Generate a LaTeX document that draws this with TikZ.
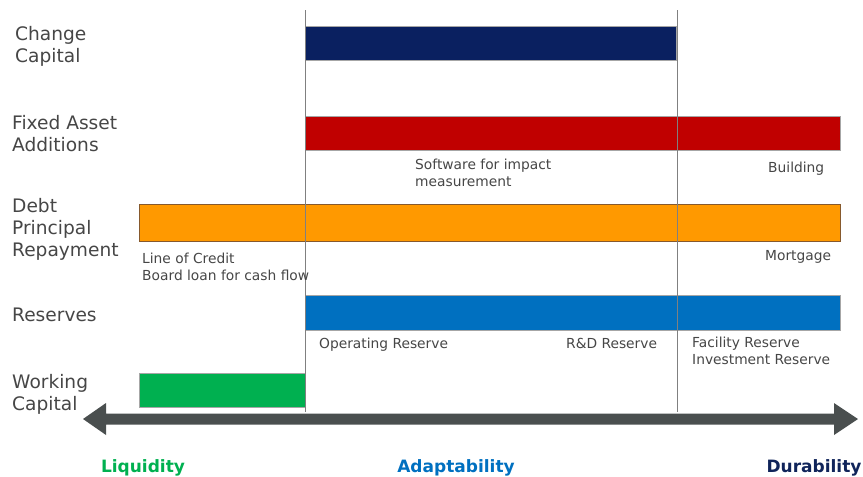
\documentclass[tikz,border=0pt]{standalone}
\usepackage{fontspec}
\setmainfont{DejaVu Sans}
\definecolor{navybar}{RGB}{10,32,96}
\definecolor{redbar}{RGB}{192,0,0}
\definecolor{orangebar}{RGB}{255,153,0}
\definecolor{bluebar}{RGB}{0,112,192}
\definecolor{greenbar}{RGB}{0,176,80}
\definecolor{txtgray}{RGB}{70,70,70}
\definecolor{arrowgray}{RGB}{74,79,79}
\definecolor{durnavy}{RGB}{16,36,90}
\begin{document}
\begin{tikzpicture}[x=1pt,y=-1pt,
  cat/.style={anchor=base west,inner sep=0pt,align=left,text=txtgray,font=\fontsize{18.6}{22}\selectfont},
  note/.style={anchor=base west,inner sep=0pt,align=left,text=txtgray,font=\fontsize{13.8}{16.5}\selectfont},
  axis/.style={anchor=base,inner sep=0pt,font=\bfseries\fontsize{17}{20}\selectfont},
  bar/.style={draw=black!35,line width=0.6pt},
  divider/.style={draw=black!50,line width=1pt}]
\useasboundingbox (0,0) rectangle (863,477);
% bars
\path[bar,fill=navybar] (305,26) rectangle (676,60);
\path[bar,fill=redbar] (305,116) rectangle (840,150);
\path[bar,fill=orangebar,draw=brown!70!black] (139,204) rectangle (840,241);
\path[bar,fill=bluebar] (305,295) rectangle (840,330);
\path[bar,fill=greenbar] (139,373) rectangle (305,407);
% dividers
\coordinate (d1t) at (305,10); \coordinate (d1b) at (305,412);
\coordinate (d2t) at (677,10); \coordinate (d2b) at (677,412);
\draw[divider] (d1t) -- (d1b);
\draw[divider] (d2t) -- (d2b);
% double arrow
\fill[arrowgray] (83,419) -- (106,403) -- (106,413.5) -- (834,413.5) -- (834,403) -- (858,419)
  -- (834,435) -- (834,424.5) -- (106,424.5) -- (106,435) -- cycle;
% category labels (anchor = baseline of last line)
\node[cat] (cc) at (15,62) {Change\\Capital};
\node[cat] (fa) at (12,151) {Fixed Asset\\Additions};
\node[cat] (dp) at (12,256) {Debt\\Principal\\Repayment};
\node[cat] (rs) at (12,321) {Reserves};
\node[cat] (wc) at (12,410) {Working\\Capital};
% notes
\node[note] (sw) at (415,186) {Software for impact\\measurement};
\node[note] (bu) at (768,172) {Building};
\node[note] (lc) at (142,280) {Line of Credit\\Board loan for cash flow};
\node[note] (mo) at (765,260) {Mortgage};
\node[note] (or) at (319,348) {Operating Reserve};
\node[note] (rd) at (566,348) {R\&D Reserve};
\node[note] (fr) at (692,364) {Facility Reserve\\Investment Reserve};
% axis labels
\node[axis,text=greenbar] (liq) at (143,472) {Liquidity};
\node[axis,text=bluebar] (ada) at (456,472) {Adaptability};
\node[axis,text=durnavy] (dur) at (814,472) {Durability};
\end{tikzpicture}
\end{document}
